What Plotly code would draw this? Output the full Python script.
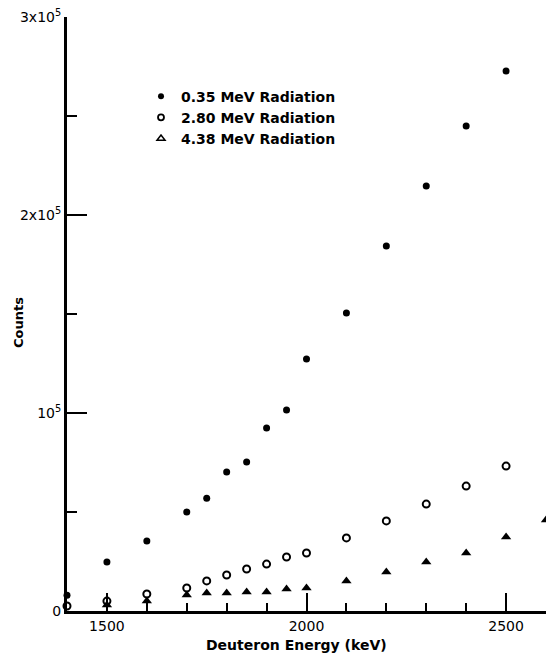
import plotly.graph_objects as go

# Deuteron energy (keV)
energy = [1400, 1500, 1600, 1700, 1750, 1800, 1850, 1900, 1950, 2000, 2100, 2200, 2300, 2400, 2500]
counts_035 = [8000, 24700, 35400, 50000, 57000, 70200, 75200, 92400, 101500, 127300, 150500, 184300, 214600, 245000, 272700]
counts_280 = [2500, 5000, 8600, 11600, 15200, 18200, 21200, 23700, 27300, 29300, 36900, 45500, 54000, 63100, 73200]

energy_438 = [1500, 1600, 1700, 1750, 1800, 1850, 1900, 1950, 2000, 2100, 2200, 2300, 2400, 2500, 2600]
counts_438 = [3000, 5000, 8100, 9100, 9100, 9600, 9600, 11100, 11600, 15200, 19700, 24700, 29300, 37400, 46000]

legend_names = ["0.35 MeV Radiation", "2.80 MeV Radiation", "4.38 MeV Radiation"]

x_major = [1500, 2000, 2500]
x_minor = [1400, 1500, 1600, 1700, 1800, 1900, 2000, 2100, 2200, 2300, 2400, 2500, 2600]
y_major = [0, 100000, 200000, 300000]
y_labels = ["0", "10<sup>5</sup>", "2x10<sup>5</sup>", "3x10<sup>5</sup>"]

FONT = "DejaVu Sans"

fig = go.Figure()

# data traces
fig.add_trace(go.Scatter(x=energy, y=counts_035, mode="markers", showlegend=False,
                         marker=dict(symbol="circle", size=7, color="black"), cliponaxis=False))
fig.add_trace(go.Scatter(x=energy, y=counts_280, mode="markers", showlegend=False,
                         marker=dict(symbol="circle-open", size=7, color="black", line=dict(width=2)),
                         cliponaxis=False))
fig.add_trace(go.Scatter(x=energy_438, y=counts_438, mode="markers", showlegend=False,
                         marker=dict(symbol="triangle-up", size=9, color="black"), cliponaxis=False))

# legend entries
legend_markers = [
    dict(symbol="circle", size=6, color="black"),
    dict(symbol="circle-open", size=6, color="black", line=dict(width=1.8)),
    dict(symbol="triangle-up-open", size=7, color="black", line=dict(width=1.5)),
]
for i, (name, mk) in enumerate(zip(legend_names, legend_markers)):
    fig.add_trace(go.Scatter(x=[None], y=[None], mode="markers", name=name,
                             legendgroup=f"g{i}", marker=mk))

fig.update_layout(
    width=546, height=656,
    margin=dict(l=67, r=0, t=17, b=45),
    paper_bgcolor="white", plot_bgcolor="white",
    font=dict(family=FONT, color="black", size=14),
    showlegend=True,
    legend=dict(x=0.1545, y=0.893, xanchor="left", yanchor="top",
                font=dict(family=FONT, size=14, weight="bold"),
                tracegroupgap=0, bgcolor="rgba(0,0,0,0)"),
    xaxis=dict(range=[1400, 2600], showgrid=False, zeroline=False, automargin=False,
               showline=True, linewidth=3, linecolor="black",
               tickmode="array", tickvals=x_major, ticktext=[str(v) for v in x_major],
               ticks="inside", ticklen=18, tickwidth=2, tickcolor="black",
               tickfont=dict(family=FONT, size=14),
               minor=dict(tickmode="array", tickvals=x_minor, ticks="inside",
                          ticklen=8, tickwidth=1.5, tickcolor="black")),
    yaxis=dict(range=[0, 300000], showgrid=False, zeroline=False, automargin=False,
               showline=True, linewidth=3, linecolor="black",
               tickmode="array", tickvals=y_major, ticktext=y_labels,
               ticks="inside", ticklen=20, tickwidth=1.5, tickcolor="black",
               tickfont=dict(family=FONT, size=14),
               minor=dict(dtick=50000, tick0=0, ticks="inside", ticklen=10,
                          tickwidth=1.5, tickcolor="black")),
    annotations=[
        dict(text="Deuteron Energy (keV)", xref="paper", yref="paper",
             x=0.48, y=-0.058, xanchor="center", yanchor="middle", showarrow=False,
             font=dict(family=FONT, size=14, weight="bold")),
        dict(text="Counts", xref="paper", yref="paper", textangle=-90,
             x=-0.1, y=0.485, xanchor="center", yanchor="middle", showarrow=False,
             font=dict(family=FONT, size=13, weight="bold")),
    ],
)

fig.write_html("out.html", config={"displayModeBar": False},
               post_script="document.body.style.margin='0';document.body.style.overflow='hidden';")
